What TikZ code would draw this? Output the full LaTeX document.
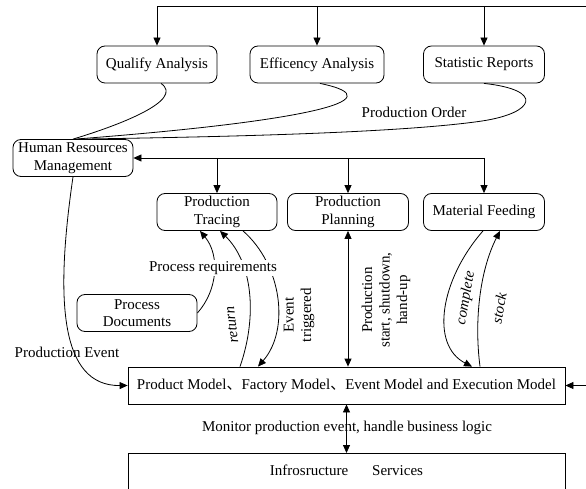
\documentclass[tikz,border=0pt]{standalone}
\usepackage{fontspec}
\setmainfont{Liberation Serif}
\newfontfamily\cjkfont{Noto Sans CJK SC}
\usetikzlibrary{arrows.meta}
\newcommand\dfont{\fontsize{15}{17.5}\selectfont}
\begin{document}
\begin{tikzpicture}[x=1pt, y=-1pt, font=\dfont, line width=0.8pt,
  >={Triangle[length=8pt,width=7pt]},
  rbox/.style={draw, rounded corners=8pt, minimum height=37pt, align=center, inner sep=2pt},
  sbox/.style={draw, minimum height=37pt, inner sep=2pt},
  vlabel/.style={align=center, inner sep=1pt},
  ilabel/.style={font=\dfont\itshape, inner sep=1pt}]
\useasboundingbox (0,0) rectangle (586,489);
\clip (0,0) rectangle (586,489);

% analysis boxes
\node[rbox, minimum width=120pt] (qa) at (157,64.5) {Qualify Analysis};
\node[rbox, minimum width=134pt] (ea) at (317,64.5) {Efficency Analysis};
\node[rbox, minimum width=121pt] (sr) at (484,64.5) {Statistic Reports};

% management and production boxes
\node[rbox, minimum width=120pt] (hrm) at (73,158) {Human Resources\\Management};
\node[rbox, minimum width=120pt] (pt) at (217,212) {Production\\Tracing};
\node[rbox, minimum width=121pt] (pp) at (348,212) {Production\\Planning};
\node[rbox, minimum width=121pt] (mf) at (484,212) {Material Feeding};
\node[rbox, minimum width=120pt] (pd) at (137,313) {Process\\Documents};

% model and infrastructure layers
\node[sbox, minimum width=437pt] (model) at (346.5,385.5)
  {Product Model{\cjkfont 、}Factory Model{\cjkfont 、}Event Model and Execution Model};
\node[draw, minimum width=437pt, anchor=north, text height=18pt, text depth=30pt, inner sep=4pt]
  (infra) at (346.5,453) {Infrosructure\hspace{1.6em}Services};

% feed from the top
\coordinate (topR) at (586,6);
\draw[->] (topR) -| (qa.north);
\draw[->] (ea.north |- topR) -- (ea.north);
\draw[->] (sr.north |- topR) -- (sr.north);

% analysis results back to management
\draw ([xshift=4pt]qa.south) .. controls (185,100) and (120,125) .. (hrm.north);
\draw ([xshift=3pt]ea.south) .. controls (400,100) and (300,122) .. ([xshift=2pt]hrm.north);
\draw (sr.south) .. controls (545,90) and (535,113) .. (482,121)
      .. controls (400,133) and (220,137) .. ([xshift=6pt]hrm.north);
\node (porder) at (414,112) {Production Order};

% distribution bus
\draw[->] (mf.north |- hrm.east) -- (hrm.east);
\draw[->] (pt.north |- hrm.east) -- (pt.north);
\draw[->] (pp.north |- hrm.east) -- (pp.north);
\draw[->] (mf.north |- hrm.east) -- (mf.north);

% management to model
\draw[->] (hrm.south) .. controls (55,300) and (60,386) .. (model.west);
\node (pevt) at (67,352) {Production Event};

% tracing loop
\draw[->] (pd.east) .. controls (218,290) and (220,255) .. (200,0 |- pt.south);
\draw[->] (240,0 |- model.north) .. controls (258,315) and (252,262) .. (220,0 |- pt.south);
\draw[->] (243,0 |- pt.south) .. controls (282,265) and (290,330) .. (258,0 |- model.north);
\node[fill=white, inner sep=1pt] (preq) at (213,268) {Process requirements};
\node[ilabel, rotate=97] (lret) at (232,325) {return};
\node[vlabel, rotate=90] (levt) at (299,315) {Event\\triggered};

% planning link
\draw[<->] (pp.south) -- (pp.south |- model.north);
\node[vlabel, rotate=90] (lprod) at (386,300) {Production\\start, shutdown,\\hand-up};

% material loop
\draw[->] (483,0 |- mf.south) .. controls (440,280) and (430,345) .. (472,0 |- model.north);
\draw[->] (480,0 |- model.north) .. controls (474,320) and (480,270) .. (500,0 |- mf.south);
\node[ilabel, rotate=80] (lcomp) at (466,298) {complete};
\node[ilabel, rotate=80] (lstock) at (499,308) {stock};

% right-hand input and services link
\coordinate (rightIn) at (586,385.5);
\draw[->] (rightIn) -- (model.east);
\draw[<->] (model.south) -- (infra.north);
\node (mon) at (347,428) {Monitor production event, handle business logic};
\end{tikzpicture}
\end{document}
